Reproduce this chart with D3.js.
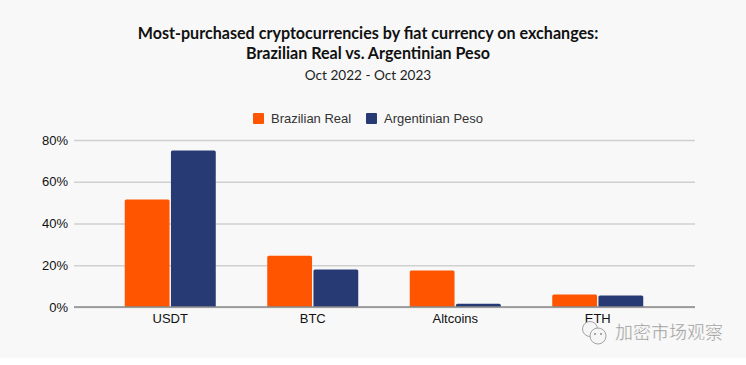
<!DOCTYPE html>
<html><head><meta charset="utf-8">
<script src="https://cdn.jsdelivr.net/npm/d3@7/dist/d3.min.js"></script>
<style>html,body{margin:0;padding:0;background:#fff}svg{display:block}</style>
</head><body><svg id="c" width="746" height="365"></svg>
<script>
const categories = ["USDT","BTC","Altcoins","ETH"];
const seriesNames = ["Brazilian Real","Argentinian Peso"];
const brazilianReal = [51.5,24.5,17.5,6];
const argentinianPeso = [75,18,1.5,5.5];
const yTicks = [0,20,40,60,80];
const colors = ["#ff5500","#283a73"];
const titleLines = ["Most-purchased cryptocurrencies by fiat currency on exchanges:","Brazilian Real vs. Argentinian Peso"];
const subtitle = "Oct 2022 - Oct 2023";
const watermark = "加密市场观察";

const svg = d3.select("#c");
svg.append("rect").attr("width",746).attr("height",358).attr("fill","#f8f8f8");
const sans = "'Liberation Sans',Arial,sans-serif", head = "Lato,sans-serif";

const tg = svg.append("g").attr("text-anchor","middle").attr("fill","#111");
titleLines.forEach((t,i)=>tg.append("text").attr("x",368).attr("y",38.5+i*20)
  .attr("font-family",head).attr("font-weight",700).attr("font-size",16.1).text(t));
tg.append("text").attr("x",368).attr("y",80).attr("font-family",head).attr("font-size",13.6).attr("fill","#222").text(subtitle);

const x = d3.scaleBand().domain(categories).range([99,669]);
const y = d3.scaleLinear().domain([0,80]).range([307,140]);
const inner = d3.scaleBand().domain(seriesNames).range([0,91]).paddingInner(0.03);
const off = (x.bandwidth()-91)/2;

const yAxis = svg.append("g").attr("transform","translate(74,0)")
  .call(d3.axisLeft(y).tickValues(yTicks).tickFormat(d=>d+"%").tickSize(-621).tickPadding(6));
yAxis.select(".domain").remove();
yAxis.selectAll("line").attr("stroke","#d0d0d0").attr("stroke-width",1.3);
yAxis.selectAll("text").attr("font-family",sans).attr("font-size",13).attr("fill","#111");

[brazilianReal,argentinianPeso].forEach((vals,s)=>{
  svg.append("g").selectAll("path").data(vals).join("path")
    .attr("fill",colors[s])
    .attr("d",(d,i)=>{
      const x0=x(categories[i])+off+inner(seriesNames[s]), w=inner.bandwidth(), t=y(d), b=y(0), r=Math.min(1.5,b-t);
      return `M${x0},${b}V${t+r}Q${x0},${t} ${x0+r},${t}H${x0+w-r}Q${x0+w},${t} ${x0+w},${t+r}V${b}Z`;
    });
});

const xAxis = svg.append("g").attr("transform","translate(0,307)")
  .call(d3.axisBottom(x).tickSize(0).tickPadding(7));
xAxis.select(".domain").remove();
xAxis.selectAll("text").attr("font-family",sans).attr("font-size",13).attr("fill","#111");
svg.append("line").attr("x1",74).attr("x2",695).attr("y1",307).attr("y2",307).attr("stroke","#8a8a8a").attr("stroke-width",1.5);

const lg = svg.append("g");
const lx = [253,366], tx=[271,384];
seriesNames.forEach((n,i)=>{
  lg.append("rect").attr("x",lx[i]).attr("y",113).attr("width",11).attr("height",11).attr("rx",1).attr("fill",colors[i]);
  lg.append("text").attr("x",tx[i]).attr("y",123).attr("font-family",sans).attr("font-size",13).attr("fill","#333").text(n);
});

const wm = svg.append("g");
[[590,329,7.5],[598,336,8]].forEach(c=>{
  wm.append("circle").attr("cx",c[0]).attr("cy",c[1]).attr("r",c[2]).attr("fill","#f6f6f6").attr("stroke","#9a9a9a").attr("stroke-width",0.9);
});
[[595,334],[601,334]].forEach(c=>wm.append("circle").attr("cx",c[0]).attr("cy",c[1]).attr("r",1).attr("fill","#8a8a8a"));
wm.append("text").attr("x",615).attr("y",339).attr("font-family","'Noto Sans CJK SC'").attr("font-size",18)
  .attr("fill","#8f8f8f").attr("stroke","#fff").attr("stroke-width",0.4).text(watermark);
</script></body></html>
